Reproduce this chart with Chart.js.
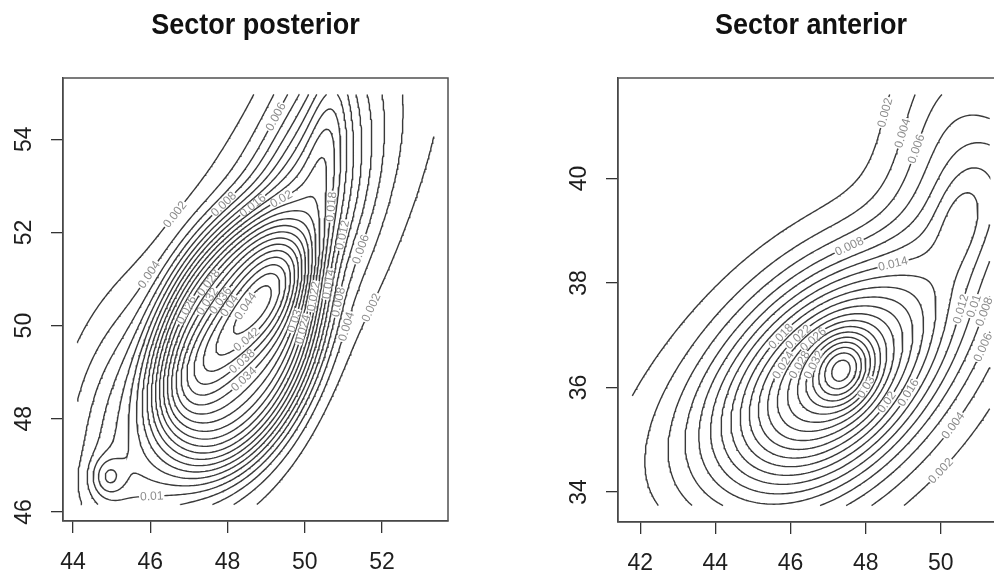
<!DOCTYPE html>
<html>
<head>
<meta charset="utf-8">
<script src="https://cdn.jsdelivr.net/npm/chart.js@4.4.1/dist/chart.umd.min.js"></script>
<style>
html, body { margin: 0; padding: 0; background: #fff; overflow: hidden; }
#wrap { position: relative; width: 994px; height: 579px; overflow: hidden; }
.pane { position: absolute; top: 0; height: 579px; }
</style>
</head>
<body>
<div id="wrap">
  <div class="pane" style="left:0;width:497px"><canvas id="post"></canvas></div>
  <div class="pane" style="left:497px;width:520px"><canvas id="ant"></canvas></div>
</div>
<script>
// ---------- DATA ----------
const levels = [0.002, 0.004, 0.006, 0.008, 0.01, 0.012, 0.014, 0.016, 0.018, 0.02, 0.022,
                0.024, 0.026, 0.028, 0.03, 0.032, 0.034, 0.036, 0.038, 0.04, 0.042, 0.044];

// Sector posterior
const postTitle = 'Sector posterior';
const postGridX = [44.11, 53.34];
const postGridY = [46.16, 54.96];
const postTicksX = [44, 46, 48, 50, 52];
const postTicksY = [46, 48, 50, 52, 54];
// bumps of the density surface (centre, angle, spreads, height, flatness)
const postCx  = [48.2, 48.45, 50.4, 50.6, 48.6, 44.9, 46.3, 45.4, 49.4];
const postCy  = [49.6, 50.1, 53.5, 54.2, 50.6, 46.75, 46.6, 48.2, 52.4];
const postAng = [65, 45, 78, 82, 52, 0, 15, 75, 60];
const postS1  = [2.0, 1.6, 2.2, 1.5, 4.5, 0.3, 1.6, 1.6, 1.2];
const postS2  = [1.4, 0.5, 0.9, 0.35, 1.5, 0.3, 0.8, 1.0, 0.8];
const postAmp = [0.026, 0.010, 0.009, 0.004, 0.0075, 0.005, 0.004, 0.0055, 0.005];
const postPow = [2, 1, 1, 1, 1, 1, 1, 1, 1];

// Sector anterior
const antTitle = 'Sector anterior';
const antGridX = [41.79, 51.30];
const antGridY = [33.74, 41.61];
const antTicksX = [42, 44, 46, 48, 50];
const antTicksY = [34, 36, 38, 40];
const antCx  = [47.1, 47.4, 46.2, 50.4, 50.5, 51.8];
const antCy  = [36.1, 36.35, 36.2, 40.2, 39.2, 40.0];
const antAng = [28, 20, 25, 85, 70, 70];
const antS1  = [2.2, 0.55, 3.5, 2.0, 0.7, 1.2];
const antS2  = [1.3, 0.45, 1.3, 1.2, 0.45, 0.8];
const antAmp = [0.026, 0.010, 0.006, 0.008, 0.003, 0.005];
const antPow = [1, 1, 1, 1, 1, 1];

// ---------- DENSITY GRID ----------
const N = 160;
function densityGrid(b, gx, gy) {
  const xs = [], ys = [];
  for (let i = 0; i < N; i++) {
    xs.push(gx[0] + (gx[1] - gx[0]) * i / (N - 1));
    ys.push(gy[0] + (gy[1] - gy[0]) * i / (N - 1));
  }
  const z = new Float64Array(N * N);
  for (let j = 0; j < N; j++) {
    for (let i = 0; i < N; i++) {
      let v = 0;
      for (let k = 0; k < b.cx.length; k++) {
        const t = b.ang[k] * Math.PI / 180;
        const dx = xs[i] - b.cx[k], dy = ys[j] - b.cy[k];
        const u = dx * Math.cos(t) + dy * Math.sin(t);
        const w = -dx * Math.sin(t) + dy * Math.cos(t);
        const q = 0.5 * (u * u / (b.s1[k] * b.s1[k]) + w * w / (b.s2[k] * b.s2[k]));
        v += b.amp[k] * Math.exp(-Math.pow(q, b.pow[k]));
      }
      z[j * N + i] = v;
    }
  }
  return { xs, ys, z };
}

// ---------- CONTOURS (marching squares) ----------
function traceLevel(g, L) {
  const { xs, ys, z } = g;
  const val = (i, j) => z[j * N + i];
  const adj = new Map();
  const link = (a, b) => {
    if (!adj.has(a)) adj.set(a, []);
    if (!adj.has(b)) adj.set(b, []);
    adj.get(a).push(b);
    adj.get(b).push(a);
  };
  for (let j = 0; j < N - 1; j++) {
    for (let i = 0; i < N - 1; i++) {
      const a = val(i, j), b = val(i + 1, j), c = val(i + 1, j + 1), d = val(i, j + 1);
      const idx = (a > L ? 1 : 0) | (b > L ? 2 : 0) | (c > L ? 4 : 0) | (d > L ? 8 : 0);
      if (idx === 0 || idx === 15) continue;
      const B = (j * N + i) * 2, T = ((j + 1) * N + i) * 2;
      const Lf = (j * N + i) * 2 + 1, R = (j * N + i + 1) * 2 + 1;
      const mid = (a + b + c + d) / 4 > L;
      switch (idx) {
        case 1: case 14: link(Lf, B); break;
        case 2: case 13: link(B, R); break;
        case 3: case 12: link(Lf, R); break;
        case 4: case 11: link(R, T); break;
        case 6: case 9: link(B, T); break;
        case 7: case 8: link(Lf, T); break;
        case 5: if (mid) { link(B, R); link(T, Lf); } else { link(Lf, B); link(R, T); } break;
        case 10: if (mid) { link(Lf, B); link(R, T); } else { link(B, R); link(T, Lf); } break;
      }
    }
  }
  const point = id => {
    const k = id >> 1, i = k % N, j = Math.floor(k / N);
    if ((id & 1) === 0) {
      const t = (L - val(i, j)) / (val(i + 1, j) - val(i, j));
      return { x: xs[i] + t * (xs[i + 1] - xs[i]), y: ys[j] };
    }
    const t = (L - val(i, j)) / (val(i, j + 1) - val(i, j));
    return { x: xs[i], y: ys[j] + t * (ys[j + 1] - ys[j]) };
  };
  const seen = new Set();
  const walk = start => {
    const ids = [start];
    seen.add(start);
    let cur = start;
    for (;;) {
      const next = adj.get(cur).find(n => !seen.has(n));
      if (next === undefined) break;
      seen.add(next);
      ids.push(next);
      cur = next;
    }
    return ids;
  };
  const lines = [];
  for (const [id, nb] of adj) if (nb.length === 1 && !seen.has(id)) lines.push(walk(id));
  for (const id of adj.keys()) {
    if (seen.has(id)) continue;
    const ids = walk(id);
    ids.push(id);
    lines.push(ids);
  }
  return lines.map(ids => ids.map(point));
}

function contourSets(g) {
  const sets = [];
  levels.forEach(L => {
    traceLevel(g, L).forEach(line => {
      sets.push({
        data: line, level: L, showLine: true, pointRadius: 0, pointHitRadius: 0,
        borderColor: '#3a3a3a', borderWidth: 1.4, tension: 0, fill: false
      });
    });
  });
  return sets;
}

// ---------- LABEL PLACEMENT ----------
const fmt = v => String(+v.toFixed(3));
function flatSpots(p, w) {
  const n = p.length, cum = [0];
  for (let i = 1; i < n; i++) cum.push(cum[i - 1] + Math.hypot(p[i][0] - p[i - 1][0], p[i][1] - p[i - 1][1]));
  if (n < 3 || cum[n - 1] < w * 1.6) return [];
  const out = [];
  let j = 0;
  for (let i = 0; i < n; i++) {
    if (j < i) j = i;
    while (j < n - 1 && cum[j] - cum[i] < w) j++;
    if (cum[j] - cum[i] < w) break;
    const ax = p[i][0], ay = p[i][1], bx = p[j][0], by = p[j][1];
    const len = Math.hypot(bx - ax, by - ay) || 1;
    let dev = 0;
    for (let k = i + 1; k < j; k++) {
      const d = Math.abs((bx - ax) * (ay - p[k][1]) - (ax - p[k][0]) * (by - ay)) / len;
      if (d > dev) dev = d;
    }
    out.push({ dev, x: (ax + bx) / 2, y: (ay + by) / 2, ang: Math.atan2(by - ay, bx - ax) });
  }
  return out.sort((a, b) => a.dev - b.dev);
}

// ---------- R-LOOK PLUGIN ----------
const FONT = '"Liberation Sans", Arial, Helvetica, sans-serif';
const rPlot = {
  id: 'rPlot',
  beforeDraw(chart) {
    const { ctx, width, height } = chart;
    ctx.save();
    ctx.fillStyle = '#fff';
    ctx.fillRect(0, 0, width, height);
    ctx.restore();
  },
  afterDatasetsDraw(chart) {
    const { ctx, chartArea: a } = chart;
    const sx = chart.scales.x, sy = chart.scales.y;
    ctx.save();
    ctx.beginPath();
    ctx.rect(a.left, a.top, a.right - a.left, a.bottom - a.top);
    ctx.clip();
    ctx.font = '12px ' + FONT;
    ctx.textAlign = 'center';
    ctx.textBaseline = 'middle';
    const placed = [];
    chart.data.datasets.forEach(ds => {
      const txt = fmt(ds.level);
      const w = ctx.measureText(txt).width + 2;
      const p = ds.data.map(d => [sx.getPixelForValue(d.x), sy.getPixelForValue(d.y)]);
      const spots = flatSpots(p, w);
      for (let s = 0; s < Math.min(spots.length, 80); s++) {
        const c = spots[s];
        if (c.dev > 3) break;
        let ang = c.ang;
        if (ang > Math.PI / 2) ang -= Math.PI;
        if (ang < -Math.PI / 2) ang += Math.PI;
        const clash = placed.some(q => {
          const dx = c.x - q.x, dy = c.y - q.y;
          const along = Math.abs(dx * Math.cos(q.ang) + dy * Math.sin(q.ang));
          const across = Math.abs(-dx * Math.sin(q.ang) + dy * Math.cos(q.ang));
          return along < (w + q.w) / 2 && across < 10;
        });
        if (clash) continue;
        placed.push({ x: c.x, y: c.y, ang, w, txt });
        break;
      }
    });
    placed.forEach(q => {
      ctx.save();
      ctx.translate(q.x, q.y);
      ctx.rotate(q.ang);
      ctx.fillStyle = '#fff';
      ctx.fillRect(-q.w / 2, -3.5, q.w, 7);
      ctx.fillStyle = '#8c8c8c';
      ctx.fillText(q.txt, 0, 0.5);
      ctx.restore();
    });
    ctx.restore();
    ctx.save();
    ctx.strokeStyle = '#505050';
    ctx.lineWidth = 1.5;
    ctx.strokeRect(a.left, a.top, a.right - a.left, a.bottom - a.top);
    ctx.restore();
  },
  afterDraw(chart, args, o) {
    const { ctx, chartArea: a } = chart;
    const sx = chart.scales.x, sy = chart.scales.y;
    ctx.save();
    ctx.fillStyle = '#111';
    ctx.font = 'bold 27px ' + FONT;
    ctx.textAlign = 'center';
    ctx.textBaseline = 'alphabetic';
    ctx.translate((a.left + a.right) / 2, 33.5);
    ctx.scale(1, 1.1);
    ctx.fillText(o.title, 0, 0);
    ctx.restore();
    ctx.save();
    ctx.fillStyle = '#1e1e1e';
    ctx.font = '23px ' + FONT;
    ctx.textAlign = 'center';
    ctx.textBaseline = 'middle';
    o.ticksX.forEach(v => ctx.fillText(String(v), sx.getPixelForValue(v), a.bottom + 42));
    o.ticksY.forEach(v => {
      ctx.save();
      ctx.translate(a.left - 38, sy.getPixelForValue(v));
      ctx.rotate(-Math.PI / 2);
      ctx.fillText(String(v), 0, 0);
      ctx.restore();
    });
    ctx.restore();
  }
};

// ---------- CHARTS ----------
const extend = r => [r[0] - 0.04 * (r[1] - r[0]), r[1] + 0.04 * (r[1] - r[0])];

function makeChart(id, cfg) {
  const g = densityGrid(cfg.bumps, cfg.gridX, cfg.gridY);
  const ex = extend(cfg.gridX), ey = extend(cfg.gridY);
  const axis = (lim, ticks, fit) => ({
    type: 'linear', min: lim[0], max: lim[1],
    afterBuildTicks: s => { s.ticks = ticks.map(v => ({ value: v })); },
    afterFit: fit,
    ticks: { display: false },
    grid: { display: true, drawOnChartArea: false, drawTicks: true, tickLength: 12, color: '#333', lineWidth: 1.3 },
    border: { display: true, color: '#333', width: 1.3 }
  });
  return new Chart(document.getElementById(id), {
    type: 'scatter',
    data: { datasets: contourSets(g) },
    options: {
      responsive: true, maintainAspectRatio: false, animation: false, events: [],
      layout: { padding: { top: 78, right: cfg.padRight, left: 0, bottom: 0 } },
      plugins: {
        legend: { display: false }, tooltip: { enabled: false },
        rPlot: { title: cfg.title, ticksX: cfg.ticksX, ticksY: cfg.ticksY }
      },
      scales: {
        x: axis(ex, cfg.ticksX, s => { s.height = cfg.axisH; }),
        y: axis(ey, cfg.ticksY, s => { s.width = cfg.axisW; })
      }
    },
    plugins: [rPlot]
  });
}

makeChart('post', {
  title: postTitle, gridX: postGridX, gridY: postGridY, ticksX: postTicksX, ticksY: postTicksY,
  bumps: { cx: postCx, cy: postCy, ang: postAng, s1: postS1, s2: postS2, amp: postAmp, pow: postPow },
  axisW: 63, axisH: 58, padRight: 49
});
makeChart('ant', {
  title: antTitle, gridX: antGridX, gridY: antGridY, ticksX: antTicksX, ticksY: antTicksY,
  bumps: { cx: antCx, cy: antCy, ang: antAng, s1: antS1, s2: antS2, amp: antAmp, pow: antPow },
  axisW: 121, axisH: 57, padRight: 13
});
</script>
</body>
</html>
